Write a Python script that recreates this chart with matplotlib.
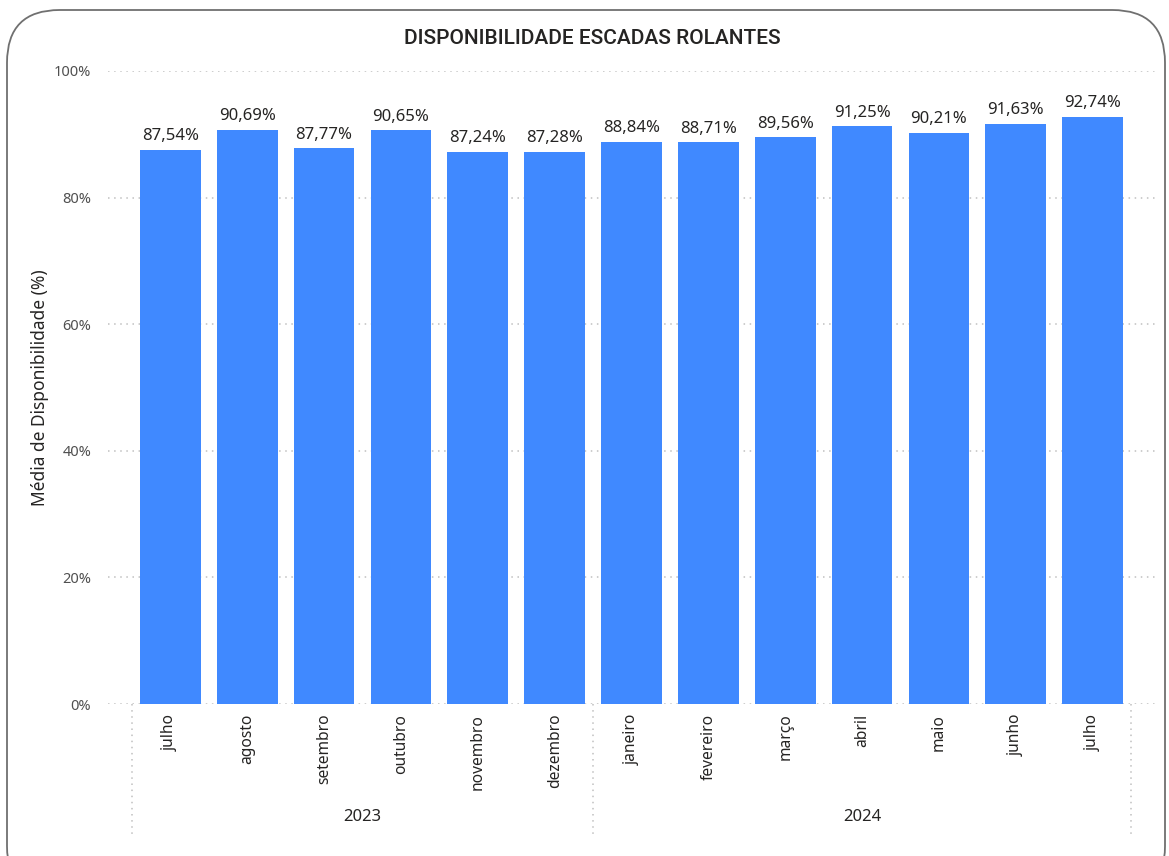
import matplotlib
matplotlib.use("Agg")
import matplotlib.pyplot as plt
from matplotlib.patches import FancyBboxPatch
import matplotlib.transforms as mtransforms

# Daten
meses = ["julho", "agosto", "setembro", "outubro", "novembro", "dezembro",
         "janeiro", "fevereiro", "março", "abril", "maio", "junho", "julho"]
anos = ["2023", "2024"]
meses_por_ano = [6, 7]
disponibilidade = [87.54, 90.69, 87.77, 90.65, 87.24, 87.28,
                   88.84, 88.71, 89.56, 91.25, 90.21, 91.63, 92.74]
yticks = [0, 20, 40, 60, 80, 100]

plt.rcParams["font.family"] = ["Noto Sans", "DejaVu Sans"]

fig = plt.figure(figsize=(11.69, 8.56), dpi=100)
fig.patch.set_facecolor("white")

# abgerundeter Rahmen
frame = FancyBboxPatch((7 / 1169, -0.05), 1158 / 1169, (856 - 10) / 856 + 0.05,
                       boxstyle="round,pad=0,rounding_size=0.045",
                       transform=fig.transFigure, facecolor="none",
                       edgecolor="#707070", linewidth=1.3,
                       mutation_aspect=1169 / 856)
fig.patches.append(frame)

ax = fig.add_axes([108 / 1169, (856 - 704) / 856, (1155 - 108) / 1169, 633 / 856])
x = list(range(len(meses)))
ax.bar(x, disponibilidade, width=0.79, color="#4089FF", zorder=3)

for xi, v in zip(x, disponibilidade):
    ax.annotate(f"{v:.2f}%".replace(".", ","), (xi, v), xytext=(0, 4),
                textcoords="offset points", ha="center", va="bottom",
                fontsize=12, color="#252423")

ax.set_xlim(-0.81, len(meses) - 1 + 0.81)
ax.set_ylim(0, 100)
ax.set_yticks(yticks)
ax.set_yticklabels([f"{t}%" for t in yticks], fontsize=10.5, color="#505050")
ax.set_xticks(x)
ax.set_xticklabels(meses, rotation=90, fontsize=11.2, color="#252423", va="top")
ax.tick_params(axis="both", length=0)
ax.tick_params(axis="x", pad=7)
ax.tick_params(axis="y", pad=12)
ax.grid(axis="y", color="#C0C0C0", linestyle=(0, (1, 3)), linewidth=1.1, zorder=0)
for s in ax.spines.values():
    s.set_visible(False)

# Jahresgruppen
trans = mtransforms.blended_transform_factory(ax.transData, ax.transAxes)
start = 0
grenzen = [-0.5]
for ano, n in zip(anos, meses_por_ano):
    mitte = start + (n - 1) / 2
    ax.text(mitte, -0.1785, ano, transform=trans, ha="center", va="center",
            fontsize=12, color="#252423")
    start += n
    grenzen.append(start - 0.5)
for g in grenzen:
    ax.plot([g, g], [0, -0.207], transform=trans, clip_on=False,
            color="#C0C0C0", linestyle=(0, (1, 3)), linewidth=1.1)

fig.text(592 / 1169, 1 - 38 / 856, "DISPONIBILIDADE ESCADAS ROLANTES",
         ha="center", va="center", fontsize=15, fontweight="medium",
         family=["Roboto", "DejaVu Sans"], color="#252423")
fig.text(40 / 1169, 1 - 388 / 856, "Média de Disponibilidade (%)",
         rotation=90, ha="center", va="center", fontsize=12.5, color="#252423")

fig.savefig("out.png", dpi=100, facecolor="white")
